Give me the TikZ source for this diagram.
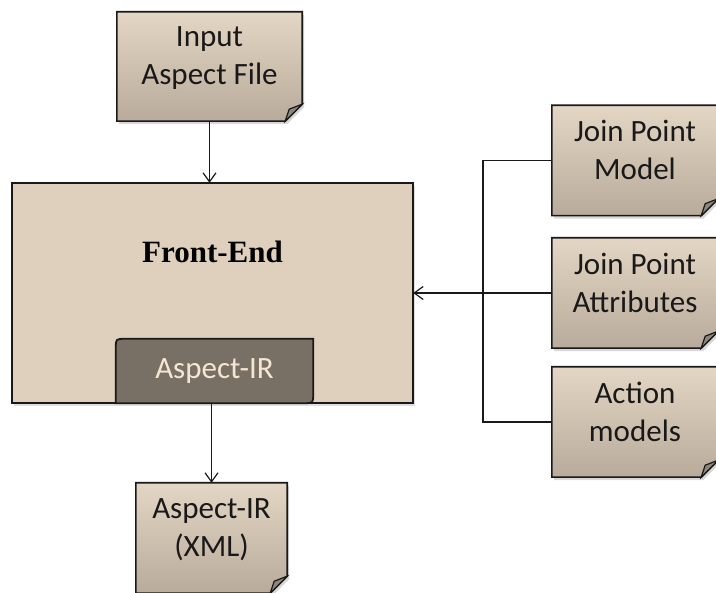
\documentclass[tikz,border=0pt]{standalone}
\usepackage{fontspec}
\setmainfont{Carlito}
\newfontfamily\headfont{Liberation Serif}
\usetikzlibrary{arrows.meta,shadows,backgrounds}
\definecolor{docTop}{HTML}{E4D6C4}
\definecolor{docBot}{HTML}{B8AB9B}
\definecolor{feFill}{HTML}{DFD0BD}
\definecolor{irFill}{HTML}{797065}
\definecolor{irText}{HTML}{F4E6D2}
\definecolor{foldFill}{HTML}{8E867B}

\begin{document}
\begin{tikzpicture}[x=1pt,y=-1pt,>={Straight Barb[length=9pt,width=13pt]}]
\tikzstyle{doc} = [minimum width=166pt, minimum height=110pt, align=center, text depth=21pt, text=black!90, font=\fontsize{31}{38}\selectfont]
\tikzstyle{docpaper} = [draw=black!90, line width=1.6pt, top color=docTop, bottom color=docBot, drop shadow={opacity=0.3, shadow xshift=2pt, shadow yshift=-3pt}]
\tikzstyle{docfold} = [draw=black!90, line width=1.2pt, fill=foldFill]
\tikzstyle{conn} = [line width=1.2pt, black!90]

\useasboundingbox (0,0) rectangle (716,593);

    % documents and blocks
    \node [doc, minimum width=185pt, minimum height=109pt] (input) at (209.5,66.5) {Input\\Aspect File};
    \node [minimum width=401pt, minimum height=220pt] (fe) at (212.5,293) {};
    \node [font=\headfont\bfseries\fontsize{31}{38}\selectfont] (title) at (212.5,252) {Front-End};
    \node [minimum width=197pt, minimum height=66pt, text=irText, font=\fontsize{31}{38}\selectfont] (air) at (214.5,371) {Aspect-IR};
    \node [doc, minimum width=151pt] (xml) at (211.5,538) {Aspect-IR\\(XML)};
    \node [doc] (jpm) at (635,160.5) {Join Point\\Model};
    \node [doc] (jpa) at (635,293) {Join Point\\Attributes};
    \node [doc] (act) at (635,422) {Action\\models};
    \coordinate (bus) at (483,293);

    \begin{scope}[on background layer]
    \draw [line width=1.6pt, draw=black!90, fill=feFill, drop shadow={opacity=0.25, shadow xshift=2pt, shadow yshift=-3pt}] (fe.north west) rectangle (fe.south east);
    \draw [line width=1.8pt, draw=black!90, fill=irFill] ([yshift=1pt]air.south west) -- ([yshift=-10pt]air.north west) .. controls ([yshift=-1pt]air.north west) .. ([xshift=10pt,yshift=-1pt]air.north west) -- ([yshift=-1pt]air.north east) -- ([yshift=10pt]air.south east) .. controls ([yshift=1pt]air.south east) .. ([xshift=-10pt,yshift=1pt]air.south east) -- cycle;
    \foreach \n in {input,xml,jpm,jpa,act}{
      \draw [docpaper] (\n.north west) -- (\n.north east) -- ([yshift=17pt]\n.south east) -- ([xshift=-17pt]\n.south east) -- (\n.south west) -- cycle;
      \draw [docfold] ([yshift=17pt]\n.south east) -- ([xshift=-17pt]\n.south east) -- ([xshift=-13pt,yshift=12pt]\n.south east) -- cycle;
    }
    \end{scope}

    % connectors
    \draw [conn, ->] (input.south) -- (input.south |- fe.north);
    \draw [conn, ->] (air.south -| xml.north) -- (xml.north);
    \draw [conn] (jpm.west) -| (bus) |- (act.west);
    \draw [conn, ->] (jpa.west) -- (fe.east);

\end{tikzpicture}
\end{document}
